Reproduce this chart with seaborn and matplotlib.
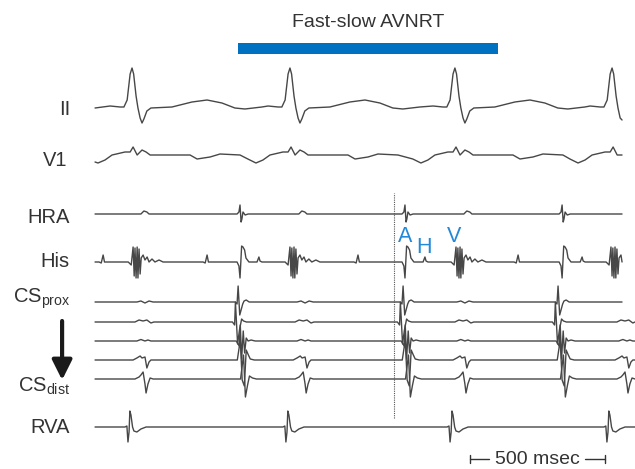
import numpy as np
import pandas as pd
import seaborn as sns
import matplotlib.pyplot as plt

sns.set_style('white')
plt.rcParams['font.family'] = ['Liberation Sans', 'DejaVu Sans']
plt.rcParams['mathtext.fontset'] = 'custom'
plt.rcParams['mathtext.rm'] = 'Liberation Sans'
plt.rcParams['mathtext.it'] = 'Liberation Sans:italic'

## event times (ms)
qrs_surface = [137, 722, 1333, 1915]
rva_v = [122, 707, 1315, 1896]
his_v = [141, 722, 1337, 1911]
his_h = [607, 1222, 1804]
his_a = [537, 1148, 1730]
his_small = [30, 415, 974, 1567]
hra_a = [537, 1148, 1730]
hra_ff = [185, 770, 1381]
cs_a = [530, 1141, 1715]
cs_a_shift = [0, -6, 4, 8, 16]          # prox -> dist
cs_ff = [185, 778, 1370, 1970]
tachy_span = [530, 1493]
cursor_ms = 1107

## waveform shapes: offset from event (ms), amplitude (a.u.)
ii_t = [-81, -44, -30, -18, -7, 0, 6, 15, 22, 30, 37, 44, 55, 70, 148, 222, 278, 333, 381, 418, 481]
ii_v = [2, 1, 1, 8, 34, 40, 34, 12, 0, -10, -15, -11, -3, 0, 1, 6, 8, 5, 0, -1, 1]
v1_t = [-156, -126, -100, -74, -26, -7, 4, 19, 37, 52, 67, 215, 241, 289, 326, 400]
v1_v = [-4, -8, -5, 0, 3, 3, 8, 0, 5, 3, 0, 0, -4, -2, 1, 0]
hra_a_t = [-11, -4, 0, 4, 7, 11, 19, 30]
hra_a_v = [0, 2, 9, -8, -5, 2, -1, 0]
hra_ff_t = [-15, -4, 7, 15]
hra_ff_v = [0, 3, 2, 0]
his_a_t = [-11, -4, 0, 6, 11, 17, 22, 33]
his_a_v = [0, -4, -16, 16, 15, 12, 4, 0]
his_h_t = [-7, 0, 4, 11]
his_h_v = [0, 5, 1, 0]
his_s_t = [-15, -7, 0, 5]
his_s_v = [0, -1, 7, 0]
his_v_t = [-18, -7, 0, 4, 7, 11, 15, 18, 22, 26, 30, 37, 44, 52, 59, 70, 81, 96, 111]
his_v_v = [0, -3, 15, -14, 14, -16, 15, -16, 13, -12, 4, 7, 2, 5, 0, 3, 0, 2, 0]
cs_a_t = [[-11, -4, 0, 6, 11, 17, 22, 30, 41],
          [-15, -7, -4, 4, 11, 19, 26, 37],
          [-11, 0, 4, 9, 15, 20, 26, 33, 44, 59],
          [-11, 0, 7, 15, 22, 30, 37, 52],
          [-7, 4, 11, 19, 26, 37, 52]]
cs_a_v = [[0, -2, 16, -13, -8, -2, 1, 2, 0],
          [0, -3, 20, -22, -8, 3, 1, 0],
          [0, -5, 16, -18, 10, -12, 3, 0, 1, 0],
          [0, 20, -20, -26, 10, 5, 1, 0],
          [0, 24, -18, -6, 3, 1, 0]]
cs_ff_t = [[-30, -15, 0, 15, 30],
           [-37, -22, -7, 7, 22, 33],
           [-30, -15, 0, 11, 22],
           [-44, -30, -18, -11, 0, 7, 15, 22],
           [-37, -22, -15, -7, 0, 4, 11, 19, 30]]
cs_ff_v = [[0, 1, -1, 1, 0],
           [0, 2, 1, 2, -1, 0],
           [0, 1.5, 0, 1, 0],
           [0, 2, 4, 2, 3, -8, -2, 0],
           [0, 2, 4, 7, -5, -14, -5, 1, 0]]
rva_t = [-11, -4, 0, 4, 7, 11, 17, 22, 33, 48, 67]
rva_v_amp = [0, 1, -15, -5, 16, 12, 0, -4, -5, -2, 0]

ink = '#474747'
txt = '#333333'
blue_bar = '#0070c0'
blue_txt = '#2288d8'


def trace(parts, t_end, start=0.0, end=0.0):
    pts = [(0.0, start)]
    for events, tt, vv in parts:
        for e in events:
            pts += [(e + a, b) for a, b in zip(tt, vv) if 0 < e + a < t_end]
    pts.sort()
    pts.append((t_end, end))
    return pd.DataFrame(pts, columns=['ms', 'amp'])


fig = plt.figure(figsize=(6.35, 4.69), dpi=100)
ax = fig.add_axes([0, 0, 1, 1])


def draw(df, base):
    sns.lineplot(x=df['ms'], y=df['amp'] + base, ax=ax, color=ink,
                 linewidth=1.0, sort=False, estimator=None)


draw(trace([(qrs_surface, ii_t, ii_v)], 1952, end=-12), 361)
draw(trace([(qrs_surface, v1_t, v1_v)], 1952, start=-7), 314)
draw(trace([(hra_a, hra_a_t, hra_a_v), (hra_ff, hra_ff_t, hra_ff_v)], 1952), 255)
draw(trace([(his_small, his_s_t, his_s_v), (his_a, his_a_t, his_a_v),
            (his_h, his_h_t, his_h_v), (his_v, his_v_t, his_v_v)], 1952), 207)
cs_base = [167, 147, 128, 109, 90]
cs_end = [1952, 2000, 2000, 2000, 2000]
for k in range(5):
    a_times = [t + cs_a_shift[k] for t in cs_a]
    draw(trace([(a_times, cs_a_t[k], cs_a_v[k]), (cs_ff, cs_ff_t[k], cs_ff_v[k])],
               cs_end[k]), cs_base[k])
draw(trace([(rva_v, rva_t, rva_v_amp)], 2000), 42)

# channel labels
labels = ['II', 'V1', 'HRA', 'His', r'CS$_{\mathrm{prox}}$', r'CS$_{\mathrm{dist}}$', 'RVA']
label_y = [354, 303, 246, 202, 166, 77, 36]
label_x = [-93, -104, -93, -93, -93, -93, -93]
for s, x, y in zip(labels, label_x, label_y):
    ax.text(x, y, s, ha='right', va='baseline', fontsize=14.5, color=txt)

ax.annotate('', xy=(-122, 89), xytext=(-122, 148),
            arrowprops=dict(arrowstyle='-|>,head_width=0.3,head_length=0.6',
                            mutation_scale=20, lw=3, color='#1a1a1a',
                            shrinkA=0, shrinkB=0))

# title and tachycardia bar
ax.text(1011, 442, 'Fast-slow AVNRT', ha='center', va='baseline', fontsize=14, color=txt)
ax.fill_between(tachy_span, 415, 426, color=blue_bar, linewidth=0)

# A H V marks
for s, x, y in [('A', 1150, 227), ('H', 1220, 216), ('V', 1331, 227)]:
    ax.text(x, y, s, ha='center', va='baseline', fontsize=15.5, color=blue_txt)

ax.plot([cursor_ms, cursor_ms], [51, 276], color='#555555', lw=0.8, linestyle=(0, (1, 1)))

# 500 msec scale bar
ax.plot([1389, 1389], [6, 14], color=txt, lw=1)
ax.plot([1889, 1889], [6, 14], color=txt, lw=1)
ax.plot([1389, 1460], [10, 10], color=txt, lw=1)
ax.plot([1815, 1889], [10, 10], color=txt, lw=1)
ax.text(1637, 10, '500 msec', ha='center', va='center', fontsize=14, color=txt)

ax.set_xlim(-352, 2000)
ax.set_ylim(0, 469)
ax.axis('off')
fig.savefig('out.png', dpi=100)
